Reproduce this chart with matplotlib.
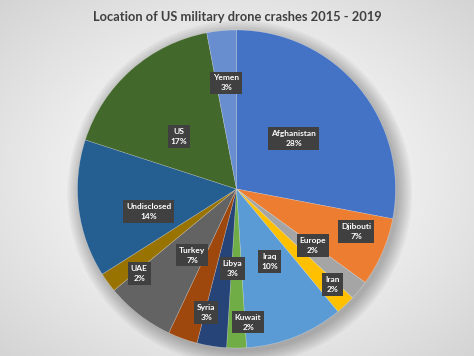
import numpy as np
import matplotlib
matplotlib.use("Agg")
import matplotlib.pyplot as plt

title = "Location of US military drone crashes 2015 - 2019"
locations = ["Afghanistan", "Djibouti", "Europe", "Iran", "Iraq", "Kuwait", "Libya",
             "Syria", "Turkey", "UAE", "Undisclosed", "US", "Yemen"]
shares = [28, 7, 2, 2, 10, 2, 3, 3, 7, 2, 14, 17, 3]
colors = ["#4472C4", "#ED7D31", "#A5A5A5", "#FFC000", "#5B9BD5", "#70AD47", "#264478",
          "#9E480E", "#636363", "#997300", "#255E91", "#43682B", "#698ED0"]
label_r = [0.48, 0.80, 0.60, 0.85, 0.50, 0.84, 0.50, 0.80, 0.50, 0.81, 0.57, 0.49, 0.67]
label_dang = [2, 4, 3, 2, 3, 5, 6, 6, 4, 5, 7, 6, 0]

W, H = 474, 356
fig = plt.figure(figsize=(W / 100, H / 100), dpi=100)

# background radial gradient
bg = fig.add_axes([0, 0, 1, 1])
yy, xx = np.mgrid[0:H, 0:W]
d = np.sqrt(((xx - W / 2) / (W / 2)) ** 2 + ((yy - H / 2) / (H / 2)) ** 2) / np.sqrt(2)
val = 1.0 - 0.17 * np.clip(d, 0, 1) ** 1.3
bg.imshow(np.dstack([val, val, val]), extent=[0, 1, 0, 1], aspect="auto")
bg.set_axis_off()

cx, cy, R = 236.5, 189, 159
ax = fig.add_axes([(cx - R) / W, (H - cy - R) / H, 2 * R / W, 2 * R / H])

wedges, _ = ax.pie(shares, colors=colors, startangle=90, counterclock=False,
                   radius=1.0, wedgeprops=dict(linewidth=0.4, edgecolor=(1, 1, 1, 0.35)))
ax.set_xlim(-1, 1)
ax.set_ylim(-1, 1)
ax.set_aspect("equal")
ax.set_axis_off()

# soft shadow
for i in range(8):
    c = plt.Circle((0.02, -0.025), 1.0 + 0.012 * i, color="black",
                   alpha=0.035, lw=0, zorder=0, clip_on=False)
    ax.add_patch(c)
for w in wedges:
    w.set_zorder(2)

for w, name, s, r, da in zip(wedges, locations, shares, label_r, label_dang):
    ang = np.deg2rad((w.theta1 + w.theta2) / 2 + da)
    ax.text(r * np.cos(ang), r * np.sin(ang), f"{name}\n{s}%", ha="center", va="center",
            color="white", fontsize=6, fontweight="bold", family="Lato",
            linespacing=1.5, zorder=5,
            bbox=dict(boxstyle="square,pad=0.35", fc="#404040", ec="none"))

fig.text(0.5, 1 - 17 / H, title, ha="center", va="center", fontsize=9.3,
         fontweight="bold", color="#404040", family="Lato")

fig.savefig("out.png", dpi=100)
